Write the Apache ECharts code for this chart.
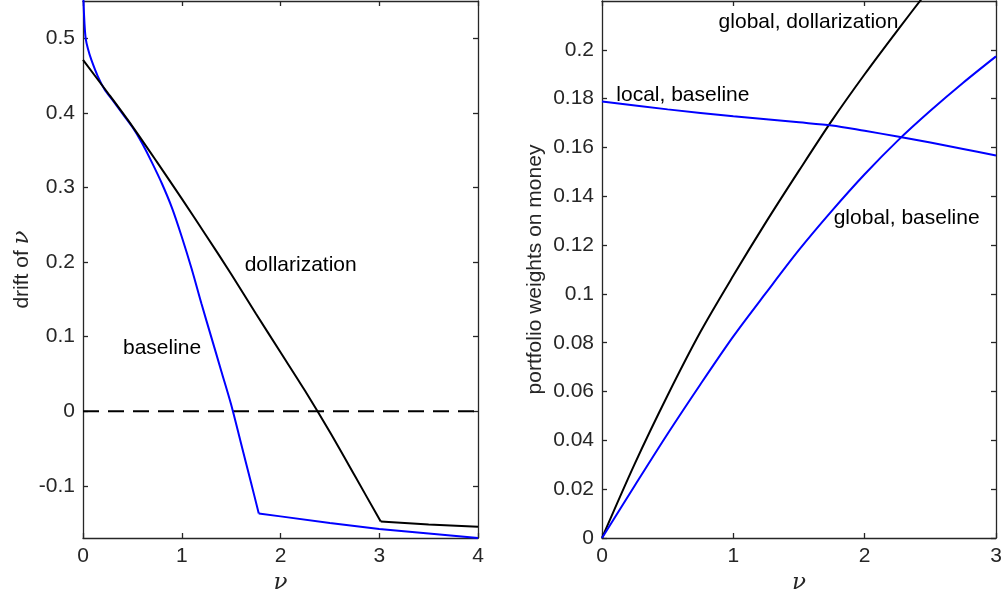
<!DOCTYPE html>
<html>
<head>
<meta charset="utf-8">
<script src="https://cdn.jsdelivr.net/npm/echarts@6/dist/echarts.min.js"></script>
<style>
  html, body { margin: 0; padding: 0; background: #fff; }
  #main { width: 1003px; height: 590px; }
</style>
</head>
<body>
<div id="main"></div>
<script>
// 左图: drift of nu
var driftBaseline = [
  [0, 0.58], [0.005, 0.55], [0.015, 0.52], [0.027, 0.5], [0.05, 0.486], [0.085, 0.471],
  [0.15, 0.449], [0.22, 0.431], [0.3, 0.417], [0.4, 0.399], [0.5, 0.381], [0.6, 0.359],
  [0.7, 0.333], [0.8, 0.305], [0.9, 0.273], [1.0, 0.234], [1.1, 0.191], [1.2, 0.144],
  [1.3, 0.099], [1.4, 0.054], [1.5, 0.009], [1.6, -0.043], [1.7, -0.095], [1.78, -0.137],
  [2, -0.141], [2.5, -0.15], [3, -0.158], [3.5, -0.164], [4, -0.17]
];
var driftDollar = [
  [0, 0.471], [0.25, 0.427], [0.5, 0.382], [0.75, 0.334], [1.0, 0.285], [1.25, 0.235],
  [1.5, 0.184], [1.75, 0.131], [2.0, 0.079], [2.25, 0.027], [2.5, -0.028], [2.75, -0.086],
  [3.015, -0.148], [3.5, -0.152], [4, -0.155]
];
var zeroLine = [[0, 0], [4, 0]];
// 折点位置 (kink)
var kinkBaseline = 1.78;
var kinkDollar = 3.015;

// 右图: portfolio weights
var globalDollar = [
  [0, 0], [0.25, 0.0305], [0.5, 0.0585], [0.75, 0.0845], [1, 0.1075], [1.25, 0.1295],
  [1.5, 0.1505], [1.75, 0.171], [2, 0.190], [2.25, 0.208], [2.5, 0.2255]
];
var globalBaseline = [
  [0, 0], [0.25, 0.0215], [0.5, 0.0427], [0.75, 0.063], [1, 0.0826], [1.25, 0.1005],
  [1.5, 0.118], [1.75, 0.134], [2, 0.149], [2.25, 0.1627], [2.5, 0.175], [2.75, 0.1865], [3, 0.1973]
];
var localBaseline = [
  [0, 0.1788], [0.5, 0.1756], [1, 0.1728], [1.5, 0.1703], [1.75, 0.169], [2, 0.1668],
  [2.25, 0.1645], [2.5, 0.162], [2.75, 0.1594], [3, 0.1567]
];

// 刻度
var leftYTicks = [-0.1, 0, 0.1, 0.2, 0.3, 0.4, 0.5];
var rightYTicks = [0, 0.02, 0.04, 0.06, 0.08, 0.1, 0.12, 0.14, 0.16, 0.18, 0.2];

var chart = echarts.init(document.getElementById('main'));
var font = 'Liberation Sans, Arial, Helvetica, sans-serif';
var axisCol = '#262626';
var fs = 21;

function boxAxis(opts, labels) {
  var a = {
    axisLine: { show: true, onZero: false, lineStyle: { color: axisCol, width: 1.3 } },
    axisTick: { show: true, inside: true, length: 5, lineStyle: { color: axisCol, width: 1.3 } },
    axisLabel: { show: labels, color: axisCol, fontSize: fs, fontFamily: font, margin: 8 },
    splitLine: { show: false }
  };
  return Object.assign(a, opts);
}

var nameRich = {
  n: { fontSize: fs, fontFamily: font, color: axisCol },
  v: { fontSize: 23, fontFamily: 'DejaVu Serif, Liberation Serif, serif', fontStyle: 'italic', color: axisCol }
};

function yTick(vals) {
  return { show: true, inside: true, length: 5, customValues: vals, lineStyle: { color: axisCol, width: 1.3 } };
}
function yLabel(vals) {
  return { show: true, color: axisCol, fontSize: fs, fontFamily: font, margin: 8, customValues: vals };
}

// 在折点处分段: 折点前平滑, 折点后直线
function before(arr, k) { return arr.filter(function (p) { return p[0] <= k; }); }
function after(arr, k) { return arr.filter(function (p) { return p[0] >= k; }); }

function line(xi, data, color, smooth, extra) {
  var s = { type: 'line', xAxisIndex: xi, yAxisIndex: xi, data: data, symbol: 'none',
    smooth: smooth, lineStyle: { color: color, width: 2 } };
  if (extra) s.lineStyle.type = extra;
  return s;
}

var option = {
  animation: false,
  grid: [
    { left: 83, top: 1, width: 395, height: 537, outerBoundsMode: 'none', containLabel: false },
    { left: 602, top: 1, width: 394, height: 537, outerBoundsMode: 'none', containLabel: false }
  ],
  xAxis: [
    boxAxis({ type: 'value', gridIndex: 0, min: 0, max: 4, interval: 1, position: 'bottom',
      name: '{v|ν}', nameLocation: 'middle', nameGap: 30, nameTextStyle: { rich: nameRich } }, true),
    boxAxis({ type: 'value', gridIndex: 0, min: 0, max: 4, interval: 1, position: 'top' }, false),
    boxAxis({ type: 'value', gridIndex: 1, min: 0, max: 3, interval: 1, position: 'bottom',
      name: '{v|ν}', nameLocation: 'middle', nameGap: 30, nameTextStyle: { rich: nameRich } }, true),
    boxAxis({ type: 'value', gridIndex: 1, min: 0, max: 3, interval: 1, position: 'top' }, false)
  ],
  yAxis: [
    boxAxis({ type: 'value', gridIndex: 0, min: -0.17, max: 0.55, position: 'left',
      axisTick: yTick(leftYTicks), axisLabel: yLabel(leftYTicks),
      name: '{n|drift of }{v|ν}', nameLocation: 'middle', nameGap: 49, nameTextStyle: { rich: nameRich } }, true),
    boxAxis({ type: 'value', gridIndex: 0, min: -0.17, max: 0.55, position: 'right',
      axisTick: yTick(leftYTicks) }, false),
    boxAxis({ type: 'value', gridIndex: 1, min: 0, max: 0.22, position: 'left',
      axisTick: yTick(rightYTicks), axisLabel: yLabel(rightYTicks),
      name: 'portfolio weights on money', nameLocation: 'middle', nameGap: 56,
      nameTextStyle: { color: axisCol, fontSize: fs, fontFamily: font } }, true),
    boxAxis({ type: 'value', gridIndex: 1, min: 0, max: 0.22, position: 'right',
      axisTick: yTick(rightYTicks) }, false)
  ],
  series: [
    line(0, zeroLine, '#000', false, [16, 9]),
    line(0, before(driftBaseline, kinkBaseline), '#0000ff', 0.3),
    line(0, after(driftBaseline, kinkBaseline), '#0000ff', false),
    line(0, before(driftDollar, kinkDollar), '#000', 0.3),
    line(0, after(driftDollar, kinkDollar), '#000', false),
    // 右图 series 使用 xAxisIndex 2 / yAxisIndex 2
    line(2, globalDollar, '#000', 0.3),
    line(2, globalBaseline, '#0000ff', 0.3),
    line(2, localBaseline, '#0000ff', 0.3)
  ]
};
chart.setOption(option);

// 曲线标注 (数据坐标)
var notes = [
  { text: 'dollarization', grid: 0, at: [1.637, 0.196] },
  { text: 'baseline', grid: 0, at: [0.405, 0.084] },
  { text: 'global, dollarization', grid: 1, at: [0.888, 0.2112] },
  { text: 'local, baseline', grid: 1, at: [0.109, 0.1813] },
  { text: 'global, baseline', grid: 1, at: [1.764, 0.1311] }
];
var g = notes.map(function (n) {
  var p = chart.convertToPixel({ gridIndex: n.grid }, n.at);
  return {
    type: 'text', x: p[0], y: p[1],
    style: { text: n.text, fill: '#000', font: fs + 'px ' + font, textVerticalAlign: 'middle', textAlign: 'left' }
  };
});
chart.setOption({ graphic: g });
</script>
</body>
</html>
